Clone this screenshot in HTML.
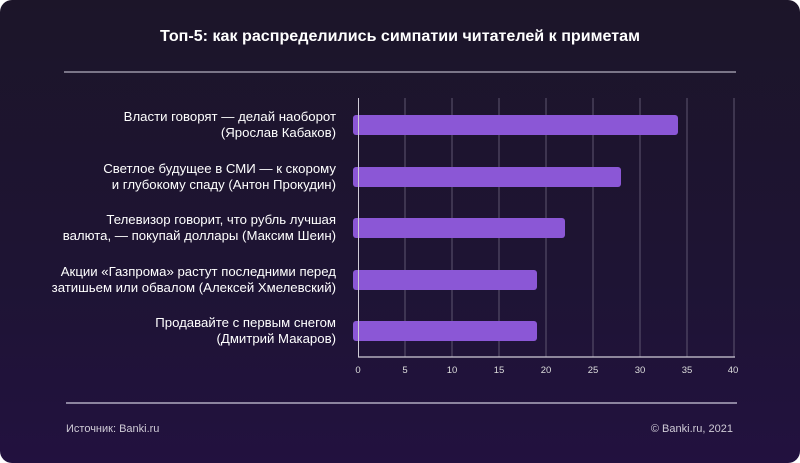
<!DOCTYPE html>
<html><head><meta charset="utf-8"><style>
html,body{margin:0;padding:0;background:#fff;}
.c{position:relative;width:800px;height:463px;border-radius:12px;overflow:hidden;
background:linear-gradient(180deg,#1c1529 0%,#1e1434 60%,#22113f 100%);
font-family:"Liberation Sans",sans-serif;color:#fff;}
</style></head><body><div class="c">
<svg width="800" height="463" style="position:absolute;left:0;top:0">
<text x="400" y="41" text-anchor="middle" font-size="16" font-weight="bold" fill="#fff" font-family="Liberation Sans, sans-serif" textLength="480" lengthAdjust="spacingAndGlyphs">Топ-5: как распределились симпатии читателей к приметам</text>
<line x1="64" y1="72" x2="736" y2="72" stroke="#9a95a6" stroke-width="1.5"/>
<g stroke="#5e5670" stroke-width="1">
<line x1="405" y1="98" x2="405" y2="357"/><line x1="452" y1="98" x2="452" y2="357"/>
<line x1="499" y1="98" x2="499" y2="357"/><line x1="546" y1="98" x2="546" y2="357"/>
<line x1="593" y1="98" x2="593" y2="357"/><line x1="640" y1="98" x2="640" y2="357"/>
<line x1="687" y1="98" x2="687" y2="357"/><line x1="734" y1="98" x2="734" y2="357"/>
</g>
<line x1="358" y1="357" x2="735" y2="357" stroke="#cfcbd6" stroke-width="1.2"/>
<g fill="#8b57d6">
<rect x="353" y="115" width="325" height="20" rx="3"/>
<rect x="353" y="167" width="268" height="20" rx="3"/>
<rect x="353" y="218" width="212" height="20" rx="3"/>
<rect x="353" y="270" width="184" height="20" rx="3"/>
<rect x="353" y="321" width="184" height="20" rx="3"/>
</g>
<line x1="358.5" y1="98" x2="358.5" y2="357" stroke="#cfcbd6" stroke-width="1"/>
<g font-size="9.5" fill="#ddd" text-anchor="middle" font-family="Liberation Sans, sans-serif">
<text x="358" y="373">0</text><text x="405" y="373">5</text><text x="452" y="373">10</text><text x="499" y="373">15</text><text x="546" y="373">20</text><text x="593" y="373">25</text><text x="640" y="373">30</text><text x="687" y="373">35</text><text x="733" y="373">40</text>
</g>
<g font-size="13.2" fill="#fff" text-anchor="end" font-family="Liberation Sans, sans-serif">
<text x="336" y="121">Власти говорят — делай наоборот</text>
<text x="336" y="137">(Ярослав Кабаков)</text>
<text x="336" y="173">Светлое будущее в СМИ — к скорому</text>
<text x="336" y="189">и глубокому спаду (Антон Прокудин)</text>
<text x="336" y="224">Телевизор говорит, что рубль лучшая</text>
<text x="336" y="240">валюта, — покупай доллары (Максим Шеин)</text>
<text x="336" y="276">Акции «Газпрома» растут последними перед</text>
<text x="336" y="292">затишьем или обвалом (Алексей Хмелевский)</text>
<text x="336" y="327">Продавайте с первым снегом</text>
<text x="336" y="343">(Дмитрий Макаров)</text>
</g>
<line x1="66" y1="403" x2="737" y2="403" stroke="#b0a9c0" stroke-width="1.5"/>
<text x="66" y="432" font-size="11" fill="#cfcbd6" font-family="Liberation Sans, sans-serif">Источник: Banki.ru</text>
<text x="733" y="432" font-size="11" fill="#cfcbd6" text-anchor="end" font-family="Liberation Sans, sans-serif">© Banki.ru, 2021</text>
</svg>
</div></body></html>
